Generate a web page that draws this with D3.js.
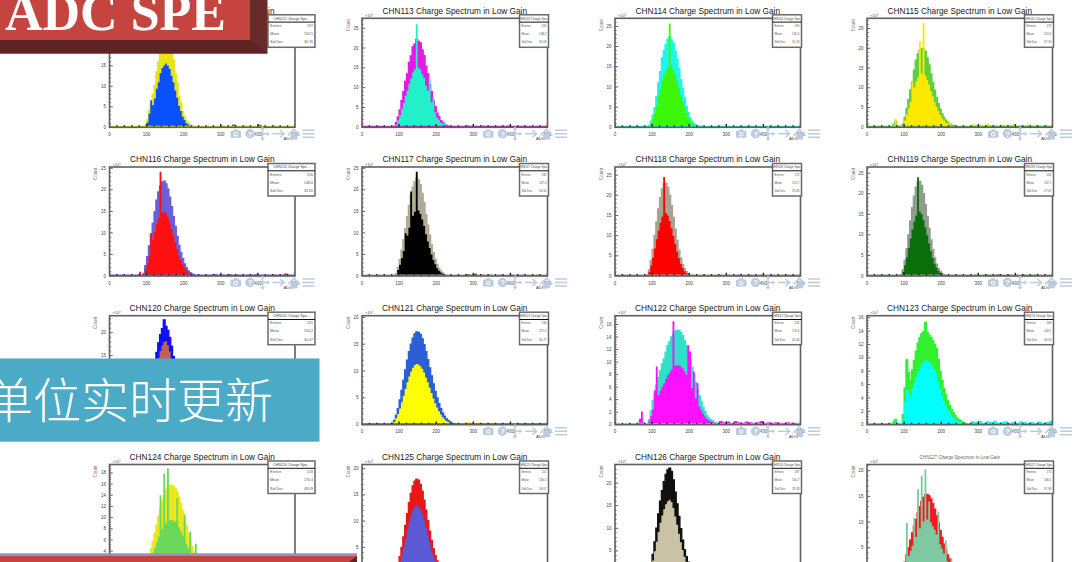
<!DOCTYPE html>
<html lang="en">
<head>
    <meta charset="UTF-8">
    <title>ADC SPE</title>
    <script src="https://cdn.jsdelivr.net/npm/d3@7"></script>
    <style>
        body { margin: 0; background: #fff; }
        svg { display: block; font-family: 'Liberation Sans', Arial, sans-serif; }
    </style>
</head>
<body>
    <svg width="1076" height="562"></svg>

    <script>
        // channels, one panel each
        const channels = ['CHN112', 'CHN113', 'CHN114', 'CHN115', 'CHN116', 'CHN117', 'CHN118', 'CHN119',
                          'CHN120', 'CHN121', 'CHN122', 'CHN123', 'CHN124', 'CHN125', 'CHN126', 'CHN127'];
        const entries = [197, 195, 195, 175, 216, 192, 172, 201, 191, 230, 232, 266, 218, 211, 187, 175];
        const means = ['150.5', '148.2', '145.5', '151.6', '148.6', '147.0', '151.7', '147.1',
                       '150.2', '157.5', '170.4', '162.1', '170.4', '160.5', '150.7', '166.1'];
        const stdDevs = ['30.76', '30.59', '31.18', '37.30', '33.05', '30.56', '29.26', '27.47',
                         '30.47', '30.77', '45.44', '44.50', '48.09', '34.07', '28.33', '37.96'];
        const yMaxes = [26.6, 27.5, 27.0, 27.6, 25.3, 25.3, 27.0, 26.5, 23.7, 20.3, 17.4, 16.3, 19.5, 20.8, 24.1, 21.2];
        const yStep = [5, 5, 5, 5, 5, 5, 5, 5, 5, 5, 2, 2, 2, 5, 5, 5];
        const fillColors = ['#0a50ff', '#22f0c8', '#3cf70a', '#ffe800', '#ff1010', '#000000', '#ff0000', '#0a6e0a',
                            '#c0605a', '#ffff00', '#ff10ff', '#00ffff', '#6cd85a', '#5a5ad6', '#c9c2a4', '#7fc9a2'];
        const lineColors = ['#e5e51a', '#e619e6', '#1ff5e8', '#5fcf3f', '#6a5fd6', '#b2ac97', '#a8a392', '#8f9c8f',
                            '#1010ff', '#2a5fd8', '#30e0c8', '#30f030', '#e8e820', '#e81818', '#111111', '#ee1c1c'];

        // counts (x10^3) in 5 ADC bins starting at 60 ADC
        const binStart = 60, binWidth = 5;
        // tail counts in 10 ADC bins starting at 280 ADC
        const tailStart = 280, tailWidth = 10;

        const b112 = [0,0,0,0,0,0.2,0.3,0.5,1.8,4.2,5.9,8.1,10.2,13.6,16.0,19.2,20.8,22.7,23.1,22.2,21.4,18.6,16.5,13.1,10.8,7.6,5.9,3.8,2.7,1.5,1.1,0.5,0.4,0.2,0.1];
        const a112 = [0,0,0,0,0,0,0.1,0.3,1.2,3.3,6.6,5.4,7.0,9.4,11.0,13.2,14.5,15.1,15.6,15.0,14.2,12.6,11.0,9.0,7.2,5.2,4.0,2.6,1.8,1.0,0.7,0.3,0.3,0.1,0];
        const b113 = [0,0,0,0,0,0.1,1.2,2.6,4.4,6.8,9.0,11.6,13.5,16.4,18.0,20.3,21.0,22.2,21.7,21.3,19.5,18.1,15.4,13.5,10.8,9.0,6.6,5.2,3.6,2.7,1.7,1.3,0.6,0.5,0.3];
        const a113 = [0,0,0,0,0,0,0.7,1.8,3.0,4.6,6.1,7.9,9.2,11.0,12.3,13.8,14.6,26.0,15.0,14.6,13.4,12.5,10.5,9.2,12.0,6.3,7.5,3.8,2.5,1.9,1.2,0.9,1.4,0.3,0.2];
        const b114 = [0,0,0,0,0,0,0.5,1.5,3.0,4.8,7.5,11.0,13.8,17.2,19.0,20.5,21.8,22.3,21.6,20.8,18.9,16.8,14.5,11.8,9.6,7.4,5.2,3.6,2.4,1.5,1.0,0.6,0.4,0.3,0.2];
        const a114 = [0,0,0,0.3,0,0,0.3,1.0,2.1,3.4,5.2,7.6,9.4,11.6,13.0,14.0,14.8,25.7,15.2,14.1,12.9,11.4,9.8,8.0,6.5,5.0,3.6,2.5,1.7,1.0,0.7,0.4,0.3,0.2,0.1];
        const b115 = [0,0,0.8,1.5,0.3,0,0.2,0.8,2.5,4.8,7.0,9.5,11.5,14.5,17.0,18.6,19.5,20.0,19.8,19.2,17.6,15.8,13.5,11.4,9.4,7.6,6.0,4.6,3.4,2.5,1.8,1.3,0.9,0.6,0.4,0.3];
        const a115 = [0.3,0,0.5,2.2,0.4,0,0.1,0.5,1.7,3.3,4.8,6.5,11.6,10.0,11.6,12.7,21.8,13.6,26.4,13.1,12.0,10.8,9.2,7.8,6.4,5.2,4.1,3.1,2.3,1.7,1.2,0.9,1.5,0.4,0.3,0.2];
        const b116 = [0,0,0,0,0,0,0.6,2.4,4.5,7.0,9.6,12.2,14.9,17.6,19.5,20.9,21.8,22.0,21.4,20.2,18.3,16.1,13.8,11.5,9.2,7.1,5.5,4.0,2.8,1.9,1.2,0.8,0.5,0.3];
        const a116 = [0,0,0,0,1.0,0,0.4,1.6,3.0,4.7,10.0,8.4,10.2,12.0,13.4,24.2,14.6,14.9,14.5,13.6,12.4,10.9,9.3,7.8,6.2,4.8,3.7,2.7,1.9,1.3,0.8,0.5,0.3,0.2];
        const b117 = [0,0,0,0,0,0,0.5,2.0,3.8,6.0,8.4,11.0,13.8,16.4,18.8,20.6,21.9,22.7,22.3,21.2,19.2,17.0,14.2,11.8,9.5,7.3,5.4,3.9,2.7,1.8,1.2,0.7,0.4,0.2];
        const a117 = [0,0,0,0.2,0,0,0.3,1.4,2.6,4.1,5.8,9.9,9.4,11.2,19.6,14.0,14.9,24.2,15.2,14.4,13.1,11.6,9.7,8.0,6.5,5.0,3.7,2.7,1.8,1.2,0.8,0.5,0.3,0.1];
        const b118 = [0,0,0,0,0,0.3,1.5,3.8,6.6,10.0,13.4,16.6,19.4,21.6,22.8,23.0,22.0,20.0,17.4,14.5,11.6,8.8,6.4,4.4,2.9,1.8,1.1,0.6,0.3,0.2];
        const a118 = [0,0,0,0,0,0.2,1.0,2.6,4.5,6.8,9.1,11.3,13.2,14.7,24.5,15.6,15.0,13.6,11.8,9.9,7.9,6.0,4.4,3.0,2.0,1.2,0.7,0.4,0.2,0.1];
        const b119 = [0,0,0,0,0,0,0.3,1.5,3.8,6.6,10.0,13.4,16.6,19.4,21.6,22.8,23.0,22.0,20.0,17.4,14.5,11.6,8.8,6.4,4.4,2.9,1.8,1.1,0.6,0.3,0.2];
        const a119 = [0,0,0,0,0,0,0.2,1.0,2.6,4.5,6.8,9.1,11.3,13.2,14.7,24.0,15.6,15.0,13.6,11.8,9.9,7.9,6.0,4.4,3.0,2.0,1.2,0.7,0.4,0.2,0.1];
        const b120 = [0,0,0,0,0,0.2,1.2,2.5,4.2,6.3,8.6,11.0,13.4,15.7,17.8,19.6,20.9,22.8,21.4,20.5,19.0,17.1,14.8,12.6,10.3,8.1,6.2,4.6,3.3,2.3,1.5,1.0,0.6,0.3,0.2];
        const a120 = [0,0,0,0,0,0,0.8,1.9,3.3,5.0,6.9,8.8,10.8,12.7,14.5,16.0,17.2,18.0,18.2,17.3,15.9,14.2,12.3,10.4,8.5,6.7,5.1,3.8,2.7,1.9,1.2,0.8,0.5,0.2,0.1];
        const b121 = [0,0,0,0,0.3,0.8,1.8,3.0,4.6,6.4,8.3,10.2,12.0,13.6,15.0,16.1,16.9,17.3,17.2,16.8,16.0,14.9,13.6,12.1,10.6,9.1,7.6,6.2,5.0,3.9,3.0,2.2,1.6,1.1,0.8,0.5,0.3,0.2];
        const a121 = [0,0,0,0,0.2,0.5,1.2,2.0,3.0,4.2,5.4,6.7,7.9,9.0,9.9,10.6,11.1,11.3,11.2,10.9,10.4,9.7,8.8,7.9,6.9,5.9,4.9,4.0,3.2,2.5,1.9,1.4,1.0,0.7,0.5,0.3,0.2,0.1];
        const b122 = [0,0.6,0.8,0.2,0,0,0.8,2.2,3.8,5.0,6.3,7.5,8.6,9.7,10.5,11.6,12.6,13.2,14.0,14.5,14.9,15.1,15.0,14.7,14.2,13.4,12.6,11.5,10.4,9.2,7.9,6.7,5.6,4.6,3.7,2.8,2.1,1.5,1.1,0.8,0.6,0.4,0.3,0.2,0.1];
        const a122 = [0,1.0,2.1,0.3,0,0,0.5,1.4,2.4,5.5,9.3,4.7,5.4,6.1,6.6,7.3,7.9,8.3,8.8,16.5,9.4,9.5,9.5,9.3,9.0,8.5,8.0,12.7,11.7,5.8,8.5,4.2,6.6,2.9,2.3,1.8,1.3,0.9,0.7,0.5,0.4,0.3,0.2,0.1,0.1];
        const b123 = [0,0,0.5,0.8,0.2,0,0,1.5,5.5,9.7,7.8,6.6,8.2,9.6,11.0,12.2,13.0,13.6,13.9,15.3,13.8,13.4,13.0,12.6,12.0,11.4,9.8,8.0,6.6,5.4,4.5,3.6,2.9,2.3,1.8,1.4,1.0,0.8,0.6,0.4,0.3,0.2,0.1];
        const a123 = [0,0,0.2,0.4,0.1,0,0,0.8,3.4,5.2,5.0,4.3,5.4,6.3,7.2,8.0,8.6,9.1,9.4,9.6,9.6,9.4,9.1,8.7,8.2,7.6,6.5,5.3,4.3,3.5,2.9,2.3,1.9,1.5,1.1,0.9,0.6,0.5,0.4,0.3,0.2,0.1,0.1];
        const b124 = [0,0,0,0,0.2,0.4,0.8,1.4,2.2,3.2,4.4,5.8,7.2,8.7,10.2,11.6,12.9,13.9,14.8,15.3,15.7,15.8,15.6,15.2,14.5,13.6,12.5,11.2,9.9,8.5,7.2,5.9,4.8,3.8,2.9,2.2,1.6,1.2,0.8,0.6,0.4,0.3,0.2,0.1,0.1];
        const a124 = [0,0,0,0,0.1,0.2,0.5,0.9,1.4,2.0,2.8,3.7,4.6,5.6,6.6,14.0,7.9,17.9,9.0,18.8,9.5,9.6,9.5,9.3,13.5,8.3,7.6,6.8,10.5,5.3,4.5,7.5,3.0,2.4,5.3,1.4,1.0,0.7,0.5,0.4,0.3,0.2,0.1,0.1];
        const b125 = [0,0,0,0,0,0.2,0.8,1.8,3.2,5.0,7.0,9.2,11.4,13.5,15.3,16.7,17.6,18.0,17.8,17.0,15.7,14.0,12.1,10.1,8.1,6.3,4.7,3.4,2.4,1.6,1.0,0.6,0.4,0.2,0.1];
        const a125 = [0,0,0,0,0,0.1,0.5,1.3,2.3,3.6,5.1,6.6,8.2,9.7,11.0,12.0,12.7,13.0,12.8,12.2,11.3,10.1,8.7,7.3,5.8,4.5,3.4,2.5,1.7,1.2,0.7,0.4,0.3,0.1,0.1];
        const b126 = [0,0,0,0,0,0,0.5,2.2,4.2,7.0,10.0,13.2,16.0,18.3,20.3,21.9,22.9,23.3,22.6,20.7,18.0,15.4,12.6,9.9,7.4,5.3,3.7,2.5,1.6,1.0,0.6,0.4,0.2,0.1];
        const a126 = [0,0,0,0,0,0,0.3,1.5,2.9,4.9,7.0,9.2,11.2,12.8,14.2,15.3,16.0,16.3,15.8,14.5,12.6,10.8,8.8,6.9,5.2,3.7,2.6,1.7,1.1,0.7,0.4,0.3,0.1,0.1];
        const b127 = [0,0,0,0,0,0,0.3,1.0,2.2,3.6,5.0,6.5,7.9,9.2,10.5,11.8,13.0,14.0,14.8,15.3,15.4,15.1,14.5,13.6,12.5,11.2,9.8,8.4,7.0,5.7,4.6,3.6,2.8,2.1,1.5,1.1,0.8,0.5,0.3,0.2,0.1];
        const a127 = [0,0,0,0,0,0,0.2,0.7,1.5,9.8,3.4,4.4,5.4,10.8,7.1,16.4,8.8,19.0,10.1,20.3,10.5,14.0,9.9,9.2,8.5,7.6,12.0,5.7,4.8,3.9,6.4,2.4,1.9,3.0,1.0,0.7,0.5,0.3,0.2,0.1,0.1];

        const t112 = [0.3,0.2,0.4,0.2,0.2,0.7,0.3,0.2,0.4,0.3,0.2,0.3,0.6,0.2,0.3,0.2,0.4,0.2,0.3,0.2,0.3,0.2];
        const t113 = [0.6,0.3,0.4,0.2,0.5,0.3,0.4,0.3,0.2,0.4,0.3,0.5,0.3,0.2,0.3,0.4,0.2,0.3,0.2,0.4,0.3,0.2];
        const t114 = [0.3,0.2,0.3,0.2,0.2,0.3,0.2,0.2,0.4,0.2,0.3,0.2,0.2,0.3,0.2,0.4,0.2,0.2,0.3,0.2,0.2,0.2];
        const t115 = [0.8,0.5,0.7,0.4,0.9,0.5,0.6,0.4,0.7,0.5,0.6,0.8,0.4,0.6,0.5,0.7,0.4,0.6,0.5,0.4,0.6,0.3];
        const t116 = [0.4,0.2,0.3,0.2,0.4,0.2,0.3,0.2,0.2,0.3,0.2,0.4,0.2,0.3,0.2,0.2,0.3,0.2,0.2,0.6,0.2,0.2];
        const t117 = [0.4,0.3,0.5,0.2,0.3,0.2,0.3,0.2,0.2,0.3,0.2,0.2,0.3,0.2,0.2,0.3,0.2,0.2,0.2,0.3,0.2,0.2];
        const t118 = [0.3,0.2,0.3,0.2,0.2,0.4,0.2,0.2,0.3,0.2,0.2,0.3,0.2,0.2,0.3,0.2,0.2,0.2,0.3,0.2,0.2,0.2];
        const t119 = [0.2,0.3,0.2,0.2,0.3,0.2,0.2,0.4,0.2,0.2,0.3,0.2,0.2,0.2,0.3,0.2,0.2,0.3,0.2,0.2,0.2,0.2];
        const t120 = [0.3,0.2,0.2,0.3,0.2,0.2,0.3,0.2,0.2,0.2,0.3,0.2,0.2,0.3,0.2,0.2,0.2,0.3,0.2,0.2,0.2,0.2];
        const t121 = [0.5,0.4,0.3,0.4,0.3,0.2,0.3,0.4,0.2,0.3,0.2,0.3,0.2,0.3,0.2,0.2,0.3,0.2,0.2,0.3,0.2,0.2];
        const t122 = [0.6,0.4,0.5,0.3,0.6,0.4,0.3,0.5,0.4,0.3,0.4,0.6,0.3,0.4,0.3,0.4,0.3,0.3,0.4,0.3,0.3,0.2];
        const t123 = [0.5,0.4,0.6,0.3,0.5,0.4,0.6,0.3,0.4,0.5,0.3,0.4,0.3,0.5,0.4,0.3,0.4,0.3,0.5,0.3,0.4,0.6];
        const t124 = [0.3,0.2,0.3,0.2,0.3,0.2,0.2,0.3,0.2,0.2,0.3,0.2,0.2,0.2,0.3,0.2,0.2,0.2,0.3,0.2,0.2,0.2];
        const t125 = [0.2,0.3,0.2,0.2,0.3,0.2,0.3,0.2,0.2,0.3,0.2,0.2,0.3,0.2,0.2,0.3,0.2,0.2,0.2,0.3,0.2,0.2];
        const t126 = [0.2,0.2,0.3,0.2,0.2,0.2,0.3,0.2,0.2,0.2,0.3,0.2,0.2,0.2,0.2,0.3,0.2,0.2,0.2,0.2,0.3,0.2];
        const t127 = [0.4,0.3,0.2,0.3,0.2,0.3,0.2,0.2,0.3,0.2,0.2,0.3,0.2,0.2,0.3,0.2,0.2,0.2,0.3,0.2,0.2,0.2];

        const fillCounts = [a112, a113, a114, a115, a116, a117, a118, a119, a120, a121, a122, a123, a124, a125, a126, a127];
        const lineCounts = [b112, b113, b114, b115, b116, b117, b118, b119, b120, b121, b122, b123, b124, b125, b126, b127];
        const tailCounts = [t112, t113, t114, t115, t116, t117, t118, t119, t120, t121, t122, t123, t124, t125, t126, t127];

        // layout of the pasted ROOT canvases
        const colLeft = [109.5, 362, 615, 867];
        const rowTop = [18.3, 167, 315.7, 464.5];
        const plotW = 185.5, plotH = 109;
        const iconColor = '#bccbdf';

        // slide shapes lying on top of the canvases: [x0, y0, x1, y1]
        const overlays = [[0, 0, 267.5, 53.5], [0, 358.5, 319.5, 441.7], [0, 553, 357, 562]];

        const svg = d3.select('svg');

        // is a small label at page position (ax, ay) left uncovered?
        function shown(ax, ay) {
            if (ay > 558) return false;
            return !overlays.some(r => ax >= r[0] - 2 && ax <= r[2] + 2 && ay >= r[1] - 1 && ay <= r[3] + 5);
        }

        function toBins(counts, start, width) {
            const pts = counts.map((v, i) => ({x: start + i * width, v: v}));
            pts.push({x: start + counts.length * width, v: 0});
            return pts;
        }

        function drawToolbar(g, x0, y0) {
            const t = g.append('g')
                .attr('transform', `translate(${x0}, ${y0})`)
                .attr('fill', iconColor)
                .attr('stroke', iconColor);
            // camera
            t.append('rect').attr('x', 0).attr('y', 2.2).attr('width', 10.5).attr('height', 7).attr('rx', 1.2).attr('stroke', 'none');
            t.append('rect').attr('x', 3.2).attr('y', 0.9).attr('width', 4).attr('height', 2).attr('stroke', 'none');
            t.append('circle').attr('cx', 5.2).attr('cy', 5.7).attr('r', 2.2).attr('fill', '#fff').attr('stroke', 'none');
            t.append('circle').attr('cx', 5.2).attr('cy', 5.7).attr('r', 1.2).attr('stroke', 'none');
            // help
            t.append('circle').attr('cx', 19.5).attr('cy', 5.3).attr('r', 4.7).attr('stroke', 'none');
            t.append('text').attr('x', 19.5).attr('y', 8).attr('text-anchor', 'middle')
                .attr('font-size', 7.5).attr('font-weight', 'bold').attr('fill', '#fff').attr('stroke', 'none').text('?');
            // move
            t.append('path').attr('d', 'M25.5,5.3H38.5M32,-1.2V11.8').attr('stroke-width', 1.6).attr('fill', 'none');
            t.append('path').attr('d', 'M25,5.3l2.5,-2.3v4.6z M39,5.3l-2.5,-2.3v4.6z M32,-1.7l-2.3,2.5h4.6z M32,12.3l-2.3,-2.5h4.6z').attr('stroke', 'none');
            // arrow
            t.append('path').attr('d', 'M42,5.3H53.5M49.5,1.8L53.5,5.3L49.5,8.8').attr('stroke-width', 1.5).attr('fill', 'none');
            // home
            t.append('path').attr('d', 'M57.5,7L63.5,1L69.5,7').attr('stroke-width', 1.6).attr('fill', 'none');
            t.append('path').attr('d', 'M60,6.5V11H67V6.5L63.5,3z').attr('stroke', 'none');
            // menu
            t.append('path').attr('d', 'M72,1.8H84M72,5.3H84M72,8.8H84').attr('stroke-width', 1.5).attr('fill', 'none');
        }

        function drawPanel(g, i) {
            const x = d3.scaleLinear().domain([0, 500]).range([0, plotW]);
            const y = d3.scaleLinear().domain([0, yMaxes[i]]).range([plotH, 0]);
            const col = i % 4;
            const ox = colLeft[col], oy = rowTop[Math.floor(i / 4)];

            const clipId = 'clip' + i;
            g.append('clipPath').attr('id', clipId)
                .append('rect').attr('width', plotW).attr('height', plotH);

            const body = g.append('g').attr('clip-path', `url(#${clipId})`);
            const area = d3.area().curve(d3.curveStepAfter)
                .x(d => x(d.x)).y0(plotH).y1(d => y(d.v));
            const line = d3.line().curve(d3.curveStepAfter)
                .x(d => x(d.x)).y(d => y(d.v));

            const bPts = toBins(lineCounts[i], binStart, binWidth);
            body.append('path').datum(bPts).attr('d', area).attr('fill', lineColors[i]);
            body.append('path').datum(bPts).attr('d', line)
                .attr('fill', 'none').attr('stroke', lineColors[i]).attr('stroke-width', 1.3);
            body.append('path').datum(toBins(fillCounts[i], binStart, binWidth))
                .attr('d', area).attr('fill', fillColors[i]);
            body.append('path').datum(toBins(tailCounts[i], tailStart, tailWidth))
                .attr('d', area).attr('fill', fillColors[i]);
            body.append('line')
                .attr('x1', 0).attr('x2', plotW)
                .attr('y1', plotH - 0.8).attr('y2', plotH - 0.8)
                .attr('stroke', lineColors[i]).attr('stroke-width', 1.4);

            // x ticks, drawn inside the frame
            body.selectAll('line.xt')
                .data(d3.range(0, 501, 20)).enter().append('line')
                .classed('xt', true)
                .attr('x1', d => x(d)).attr('x2', d => x(d))
                .attr('y1', plotH).attr('y2', d => plotH - (d % 100 === 0 ? 3.2 : 2))
                .attr('stroke', '#222').attr('stroke-width', 1.4);

            // y ticks
            const step = yStep[i];
            const minor = d3.range(0, yMaxes[i], step / 5);
            body.selectAll('line.yt')
                .data(minor).enter().append('line')
                .classed('yt', true)
                .attr('x1', 0).attr('x2', (d, k) => (k % 5 === 0 ? 3.2 : 1.6))
                .attr('y1', d => y(d)).attr('y2', d => y(d))
                .attr('stroke', '#333').attr('stroke-width', 0.8);

            g.append('rect')
                .attr('width', plotW).attr('height', plotH)
                .attr('fill', 'none').attr('stroke', '#5f5f5f').attr('stroke-width', 1.6);

            const major = d3.range(0, yMaxes[i], step).filter(d => shown(ox - 5, oy + y(d)));
            g.selectAll('text.yl')
                .data(major).enter().append('text')
                .classed('yl', true)
                .attr('x', -3.5).attr('y', d => y(d) + 1.6)
                .attr('text-anchor', 'end').attr('font-size', 4.5).attr('fill', '#444')
                .text(d => d);

            const xVals = d3.range(0, 501, 100).filter(d => shown(ox + x(d), oy + plotH + 8.6));
            g.selectAll('text.xl')
                .data(xVals).enter().append('text')
                .classed('xl', true)
                .attr('x', d => x(d)).attr('y', plotH + 8.6)
                .attr('text-anchor', 'middle').attr('font-size', 4.5).attr('fill', '#444')
                .text(d => d);

            if (shown(ox + plotW - 7, oy + plotH + 13.2)) {
                g.append('text').attr('x', plotW - 7).attr('y', plotH + 13.2)
                    .attr('text-anchor', 'middle').attr('font-size', 4.3).attr('fill', '#444').text('ADC');
            }
            if (shown(ox - 14, oy + 12)) {
                g.append('text')
                    .attr('transform', 'translate(-12.5, 1)rotate(-90)')
                    .attr('text-anchor', 'end').attr('font-size', 4.5).attr('fill', '#8c6a6a').text('Count');
            }
            if (shown(ox + 5, oy - 2)) {
                g.append('text').attr('x', 3).attr('y', -1.4)
                    .attr('font-size', 4).attr('fill', '#555').text('×10³');
            }

            // title
            const small = channels[i] === 'CHN127';
            g.append('text')
                .attr('x', plotW / 2).attr('y', small ? -6 : -4.6)
                .attr('text-anchor', 'middle')
                .attr('font-size', small ? 4.6 : 8.3)
                .attr('fill', small ? '#666' : '#1a1a1a')
                .text(`${channels[i]} Charge Spectrum in Low Gain`);

            // stats box
            const bw = col === 0 ? 47 : 29;
            const bx = col === 0 ? plotW - 27 : plotW - 28;
            const fs = col === 0 ? 3.6 : 3;
            const box = g.append('g').attr('transform', `translate(${bx}, -3.5)`);
            box.append('rect').attr('width', bw).attr('height', 32.5)
                .attr('fill', '#fff').attr('stroke', '#6a6a6a').attr('stroke-width', 1.5);
            box.append('text').attr('x', bw / 2).attr('y', 4.9)
                .attr('text-anchor', 'middle').attr('font-size', fs).attr('fill', '#444')
                .text(`${channels[i]} Charge Spe...`);
            box.append('line').attr('x1', 0).attr('x2', bw).attr('y1', 7.3).attr('y2', 7.3)
                .attr('stroke', '#111').attr('stroke-width', 1);
            const rows = [['Entries', entries[i]], ['Mean', means[i]], ['Std Dev', stdDevs[i]]];
            const rowY = [12.3, 20, 28.5];
            box.selectAll('text.sl')
                .data(rows).enter().append('text')
                .classed('sl', true)
                .attr('x', 2).attr('y', (d, k) => rowY[k])
                .attr('font-size', fs).attr('fill', '#555')
                .text(d => d[0]);
            box.selectAll('text.sv')
                .data(rows).enter().append('text')
                .classed('sv', true)
                .attr('x', bw - 2).attr('y', (d, k) => rowY[k])
                .attr('text-anchor', 'end').attr('font-size', fs).attr('fill', '#555')
                .text(d => d[1]);

            if (shown(ox + 121, oy + plotH + 8)) {
                drawToolbar(g, 121, plotH + 1.2);
            }
        }

        const panels = svg.selectAll('g.panel')
            .data(channels).enter().append('g')
            .classed('panel', true)
            .attr('transform', (d, i) => `translate(${colLeft[i % 4]}, ${rowTop[Math.floor(i / 4)]})`);
        panels.each(function (d, i) { drawPanel(d3.select(this), i); });

        // slide overlays
        const banner = svg.append('g');
        banner.append('rect').attr('x', 0).attr('y', 0).attr('width', 267.5).attr('height', 53.5).attr('fill', '#6b2a2a');
        banner.append('path').attr('d', 'M250,40L267.5,53.5H0V40z').attr('fill', '#5e2424');
        banner.append('rect').attr('x', 0).attr('y', 0).attr('width', 250).attr('height', 40).attr('fill', '#c5443f');
        banner.append('text').attr('x', 5).attr('y', 30)
            .attr('font-family', "'Liberation Serif', 'DejaVu Serif', serif")
            .attr('font-weight', 'bold').attr('font-size', 52).attr('fill', '#fff')
            .text('ADC SPE');

        const note = svg.append('g');
        note.append('rect').attr('x', 0).attr('y', 358.5).attr('width', 319.5).attr('height', 83.2).attr('fill', '#4babc6');
        note.append('text').attr('x', -15).attr('y', 418)
            .attr('font-family', "'Noto Sans CJK SC', sans-serif")
            .attr('font-weight', 300).attr('font-size', 48).attr('fill', '#fff')
            .text('单位实时更新');

        const foot = svg.append('g');
        foot.append('rect').attr('x', 0).attr('y', 553.3).attr('width', 357).attr('height', 2.6).attr('fill', '#9a8cc6');
        foot.append('rect').attr('x', 0).attr('y', 555.9).attr('width', 357).attr('height', 7).attr('fill', '#c5443f');
        foot.append('path').attr('d', 'M349,562L357,555.9V562z').attr('fill', '#5e2424');
    </script>
</body>
</html>
